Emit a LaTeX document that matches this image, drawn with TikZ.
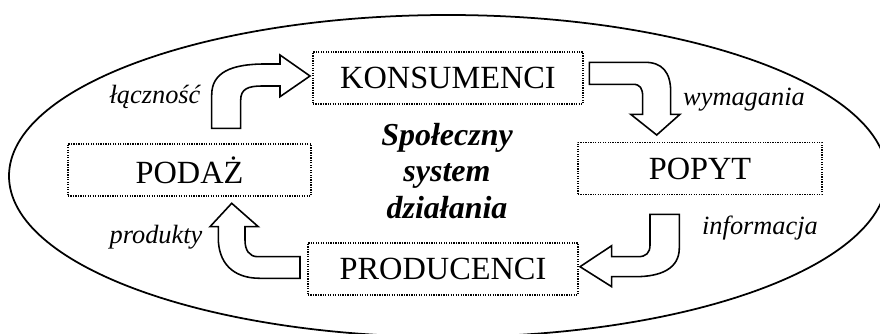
\documentclass[tikz,border=0pt]{standalone}
\usepackage{fontspec}
\setmainfont{Liberation Serif}
\begin{document}
\begin{tikzpicture}[x=0.2mm,y=-0.2mm,
    ramka/.style={draw, line width=0.7pt, dash pattern=on 0.7pt off 0.7pt,
      inner sep=0pt, minimum height=1.04cm, font=\fontsize{18.4}{20}\selectfont},
    strzalka/.style={draw, fill=white, line width=0.9pt, line join=miter},
    opis/.style={font=\fontsize{15}{17}\selectfont\itshape}]
  \useasboundingbox (0,0) rectangle (880,334);
  \draw[line width=1pt] (448,176) ellipse [x radius=439, y radius=161];
  % pola
  \node[ramka, minimum width=5.4cm] (kons) at (448,78) {KONSUMENCI};
  \node[ramka, minimum width=4.86cm] (podaz) at (189.5,170) {PODAŻ};
  \node[ramka, minimum width=4.88cm] (popyt) at (700,168.5) {POPYT};
  \node[ramka, minimum width=5.4cm] (prod) at (443,269) {PRODUCENCI};
  \node[align=center, font=\fontsize{18.2}{20.6}\selectfont\bfseries\itshape] (system) at (447,171)
    {Społeczny\\system\\działania};
  % strzalki
  \draw[strzalka] (211.7,128.3) -- (211.7,95) .. controls (211.7,72) and (232,64) .. (265,64)
    -- (280,64) -- (280,55) -- (310,76) -- (280,96.7) -- (280,86) -- (262,86)
    .. controls (248,86) and (240.7,89) .. (240.7,100) -- (240.7,128.3) -- cycle;
  \draw[strzalka] (589.3,62.3) -- (645,62.3) .. controls (662,62.3) and (670.7,72) .. (670.7,92)
    -- (670.7,114.3) -- (680,114.3) -- (656.7,135) -- (630.7,114.3) -- (642.7,114.3)
    -- (642.7,97) .. controls (642.7,88) and (640,84.3) .. (633,84.3) -- (589.3,84.3) -- cycle;
  \draw[strzalka] (650,214.3) -- (679.3,214.3) -- (679.3,248) .. controls (679.3,268) and (662,276.7) .. (635,276.7)
    -- (611.7,276.7) -- (611.7,286.7) -- (580,266.7) -- (611.7,245.7) -- (611.7,256.7) -- (638,256.7)
    .. controls (646,256.7) and (650,253) .. (650,245) -- cycle;
  \draw[strzalka] (300,256.7) -- (300,278.3) -- (260,278.3) .. controls (232,278.3) and (218.3,262) .. (218.3,238)
    -- (218.3,226.7) -- (210,226.7) -- (231.7,203.3) -- (258.3,226.7) -- (245,226.7) -- (245,240)
    .. controls (245,250) and (249,256.7) .. (258,256.7) -- cycle;
  % opisy
  \node[opis] (lacz) at (155,97) {łączność};
  \node[opis] (wym) at (744,100) {wymagania};
  \node[opis] (inf) at (760,228) {informacja};
  \node[opis] (prodk) at (156,237) {produkty};
\end{tikzpicture}
\end{document}
